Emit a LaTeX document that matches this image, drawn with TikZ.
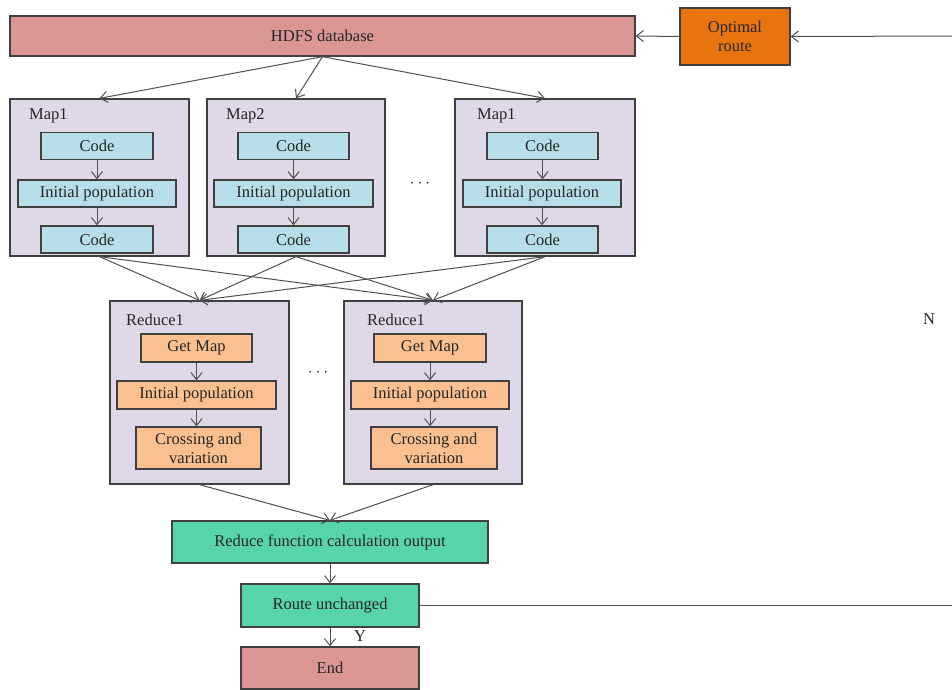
\documentclass[tikz,border=0pt]{standalone}
\usepackage{fontspec}
\setmainfont{Liberation Serif}
\usetikzlibrary{arrows.meta}
\definecolor{pinkc}{HTML}{D99694}
\definecolor{orangec}{HTML}{E8740F}
\definecolor{lavc}{HTML}{DFD8E8}
\definecolor{bluec}{HTML}{B7DEE8}
\definecolor{lorc}{HTML}{FAC090}
\definecolor{greenc}{HTML}{57D4A9}
\definecolor{edgec}{HTML}{404040}
\definecolor{linec}{HTML}{505050}
\begin{document}
\begin{tikzpicture}[x=1pt,y=-1pt,
  every node/.style={font=\fontsize{16.5}{19}\selectfont, text=black!85},
  bx/.style={draw=edgec, line width=1.3pt, inner sep=0pt, align=center},
  grp/.style={bx, fill=lavc},
  bl/.style={bx, fill=bluec, minimum height=27pt},
  ob/.style={bx, fill=lorc},
  gb/.style={bx, fill=greenc},
  pk/.style={bx, fill=pinkc},
  lbl/.style={anchor=west, inner sep=0pt},
  arr/.style={draw=linec, line width=1pt, -{Straight Barb[length=7pt,width=11pt]}},
  ln/.style={draw=linec, line width=1pt}]
\useasboundingbox (0,0) rectangle (952,689);
\fill[white] (0,0) rectangle (952,689);
% top
\node[pk, minimum width=625pt, minimum height=40pt] (hdfs) at (322.5,36) {HDFS database};
\node[bx, fill=orangec, minimum width=110pt, minimum height=57pt] (opt) at (735,36.5) {Optimal\\route};
% map groups
\node[grp, minimum width=179pt, minimum height=157pt] (map1) at (99.5,177.5) {};
\node[grp, minimum width=178pt, minimum height=157pt] (map2) at (296,177.5) {};
\node[grp, minimum width=180pt, minimum height=157pt] (map3) at (545,177.5) {};
\node[lbl] (lm1) at (29,116) {Map1};
\node[lbl] (lm2) at (226,116) {Map2};
\node[lbl] (lm3) at (477,116) {Map1};
\node[bl, minimum width=112pt] (a1) at (97,146) {Code};
\node[bl, minimum width=158pt] (a2) at (97,193.5) {Initial population};
\node[bl, minimum width=112pt] (a3) at (97,239.5) {Code};
\node[bl, minimum width=111pt] (b1) at (293.5,146) {Code};
\node[bl, minimum width=159pt] (b2) at (293.5,193.5) {Initial population};
\node[bl, minimum width=111pt] (b3) at (293.5,239.5) {Code};
\node[bl, minimum width=111pt] (c1) at (542.5,146) {Code};
\node[bl, minimum width=158pt] (c2) at (542,193.5) {Initial population};
\node[bl, minimum width=111pt] (c3) at (542.5,239.5) {Code};
\node (dots1) at (420,184) {$\cdots$};
% reduce groups
\node[grp, minimum width=179pt, minimum height=183pt] (r1) at (199.5,392.5) {};
\node[grp, minimum width=178pt, minimum height=183pt] (r2) at (433,392.5) {};
\node[lbl] (lr1) at (126,320) {Reduce1};
\node[lbl] (lr2) at (367,320) {Reduce1};
\node[ob, minimum width=111pt, minimum height=28pt] (d1) at (196.5,348) {Get Map};
\node[ob, minimum width=159pt, minimum height=28pt] (d2) at (196.5,395) {Initial population};
\node[ob, minimum width=125pt, minimum height=42pt] (d3) at (198.5,448) {Crossing and\\variation};
\node[ob, minimum width=112pt, minimum height=28pt] (e1) at (430,348) {Get Map};
\node[ob, minimum width=158pt, minimum height=28pt] (e2) at (430,395) {Initial population};
\node[ob, minimum width=126pt, minimum height=42pt] (e3) at (434,448) {Crossing and\\variation};
\node (dots2) at (318,373) {$\cdots$};
% bottom
\node[gb, minimum width=316pt, minimum height=42pt] (out) at (330,542) {Reduce function calculation output};
\node[gb, minimum width=178pt, minimum height=43pt] (route) at (330,605.5) {Route unchanged};
\node[pk, minimum width=178pt, minimum height=42pt] (end) at (330,668) {End};
\node (ylab) at (360,636) {Y};
\node (nlab) at (929,319) {N};
\coordinate (lp1) at (955,605.5);
\coordinate (lp2) at (955,36);
% connectors
\draw[arr] (opt.west) -- (hdfs.east);
\draw[arr] (hdfs.south) -- (map1.north);
\draw[arr] (hdfs.south) -- (map2.north);
\draw[arr] (hdfs.south) -- (map3.north);
\foreach \p/\q in {a1/a2,a2/a3,b1/b2,b2/b3,c1/c2,c2/c3,d1/d2,d2/d3,e1/e2,e2/e3}
  \draw[arr] (\p.south) -- (\p.south |- \q.north);
\foreach \m in {map1,map2,map3}{
  \draw[arr] (\m.south) -- (r1.north);
  \draw[arr] (\m.south) -- (r2.north);}
\draw[arr] (r1.south) -- (out.north);
\draw[arr] (r2.south) -- (out.north);
\draw[arr] (out.south) -- (route.north);
\draw[arr] (route.south) -- (end.north);
\draw[ln] (route.east) -- (lp1) -- (lp2);
\draw[arr] (lp2) -- (opt.east);
\end{tikzpicture}
\end{document}
